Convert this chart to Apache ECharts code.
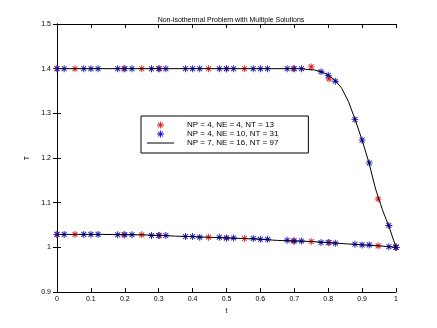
<!DOCTYPE html>
<html>
<head>
<meta charset="utf-8">
<script src="https://cdn.jsdelivr.net/npm/echarts@6/dist/echarts.min.js"></script>
<style>html,body{margin:0;padding:0;background:#fff;}#c{width:437px;height:328px;}</style>
</head>
<body>
<div id="c"></div>
<script>
// ---- data ----
var titleText = 'Non-isothermal Problem with Multiple Solutions';
var nameRed = 'NP = 4, NE = 4, NT = 13';
var nameBlue = 'NP = 4, NE = 10, NT = 31';
var nameLine = 'NP = 7, NE = 16, NT = 97';
var xTicks = [0, 0.1, 0.2, 0.3, 0.4, 0.5, 0.6, 0.7, 0.8, 0.9, 1];
var yTicks = [0.9, 1, 1.1, 1.2, 1.3, 1.4, 1.5];

var redX = [0, 0.0528, 0.1972, 0.25, 0.3028, 0.4472, 0.5, 0.5528, 0.6972, 0.75, 0.8028, 0.9472, 1];
var redUpper = [1.4, 1.4, 1.4, 1.4, 1.4, 1.4, 1.4, 1.4, 1.4, 1.404, 1.377, 1.108, 1.0];
var redLower = [1.029, 1.029, 1.028, 1.028, 1.0264, 1.0226, 1.021, 1.0197, 1.0143, 1.013, 1.0107, 1.0033, 1.0];

var blueX = [0, 0.0211, 0.0789, 0.1, 0.1211, 0.1789, 0.2, 0.2211, 0.2789, 0.3, 0.3211,
  0.3789, 0.4, 0.4211, 0.4789, 0.5, 0.5211, 0.5789, 0.6, 0.6211, 0.6789, 0.7, 0.7211,
  0.7789, 0.8, 0.8211, 0.8789, 0.9, 0.9211, 0.9789, 1];
var blueUpper = [1.4, 1.4, 1.4, 1.4, 1.4, 1.4, 1.4, 1.4, 1.4, 1.4, 1.4,
  1.4, 1.4, 1.4, 1.4, 1.4, 1.4, 1.4, 1.4, 1.4, 1.4, 1.4, 1.4,
  1.393, 1.385, 1.372, 1.286, 1.240, 1.189, 1.049, 1.0];
var blueLower = [1.029, 1.029, 1.029, 1.029, 1.029, 1.028, 1.028, 1.028, 1.0264, 1.0264, 1.0264,
  1.0242, 1.0242, 1.0226, 1.0226, 1.021, 1.021, 1.0197, 1.018, 1.018, 1.0159, 1.0143, 1.0143,
  1.0107, 1.0107, 1.0092, 1.0069, 1.0055, 1.0055, 1.0015, 1.0];

var lineUpperX = [0, 0.1, 0.2, 0.3, 0.4, 0.5, 0.6, 0.7, 0.72, 0.74, 0.76, 0.78, 0.8, 0.82, 0.84, 0.86, 0.88, 0.9, 0.92, 0.94, 0.96, 0.98, 1];
var lineUpperY = [1.4, 1.4, 1.4, 1.4, 1.4, 1.4, 1.4, 1.4, 1.4, 1.398, 1.397, 1.393, 1.386, 1.374, 1.356, 1.326, 1.285, 1.24, 1.19, 1.13, 1.084, 1.045, 1.0];
var lineLowerX = [0, 0.125, 0.25, 0.31, 0.35, 0.4, 0.45, 0.5, 0.55, 0.6, 0.65, 0.7, 0.75, 0.8, 0.85, 0.9, 0.95, 1];
var lineLowerY = [1.029, 1.029, 1.028, 1.0265, 1.025, 1.024, 1.0225, 1.021, 1.0197, 1.018, 1.0155, 1.0143, 1.013, 1.0107, 1.008, 1.0055, 1.0033, 1.0];

function pairs(xs, ys) { return xs.map(function (x, i) { return [x, ys[i]]; }); }

// filled eight-armed asterisk (like MATLAB '*')
var star = 'path://M0 4.35 L10 4.35 L10 5.65 L0 5.65 Z ' +
  'M4.35 0 L5.65 0 L5.65 10 L4.35 10 Z ' +
  'M1.04 1.96 L1.96 1.04 L8.96 8.04 L8.04 8.96 Z ' +
  'M8.04 1.04 L8.96 1.96 L1.96 8.96 L1.04 8.04 Z';
var lineIcon = 'path://M0 0 L27 0 L27 1 L0 1 Z';
var RED = '#e3221e', BLUE = '#1616c8';
var FONT = 'Liberation Sans';
var fmt = function (v) { return String(+(+v).toFixed(1)); };

var chart = echarts.init(document.getElementById('c'), null, { renderer: 'canvas' });
var baseX = {
  type: 'value', min: 0, max: 1, interval: 0.1,
  axisLine: { show: true, lineStyle: { color: '#000', width: 1 } },
  axisTick: { show: true, inside: true, length: 4, lineStyle: { color: '#000' } },
  splitLine: { show: false }
};
var baseY = {
  type: 'value', min: 0.9, max: 1.5, interval: 0.1,
  axisLine: { show: true, lineStyle: { color: '#000', width: 1 } },
  axisTick: { show: true, inside: true, length: 4, lineStyle: { color: '#000' } },
  splitLine: { show: false }
};
chart.setOption({
  animation: false,
  backgroundColor: '#fff',
  title: {
    text: titleText, left: 226, top: 12, textAlign: 'center',
    textStyle: { fontFamily: FONT, fontSize: 7, fontWeight: 'normal', color: '#000' }
  },
  grid: { left: 57, right: 41, top: 24, bottom: 36 },
  legend: {
    data: [
      { name: nameRed, icon: star, itemStyle: { color: RED, borderWidth: 0 } },
      { name: nameBlue, icon: star, itemStyle: { color: BLUE, borderWidth: 0 } },
      { name: nameLine, icon: lineIcon, itemStyle: { color: '#000', borderWidth: 0 } }
    ],
    orient: 'vertical', left: 141, top: 116,
    borderColor: '#000', borderWidth: 1, backgroundColor: '#fff',
    padding: [5, 30, 6, 6],
    itemWidth: 27, itemHeight: 7, itemGap: 1,
    textStyle: { fontFamily: FONT, fontSize: 8, color: '#000', padding: [0, 0, 0, 8], lineHeight: 7 }
  },
  xAxis: [
    Object.assign({}, baseX, {
      position: 'bottom',
      name: 't', nameLocation: 'middle', nameGap: 14,
      nameTextStyle: { fontFamily: FONT, fontSize: 7, color: '#000' },
      axisLabel: { fontFamily: FONT, fontSize: 7, color: '#000', margin: 4, formatter: fmt }
    }),
    Object.assign({}, baseX, { position: 'top', axisLabel: { show: false } })
  ],
  yAxis: [
    Object.assign({}, baseY, {
      position: 'left',
      name: 'T', nameLocation: 'middle', nameGap: 22, nameRotate: 90,
      nameTextStyle: { fontFamily: FONT, fontSize: 7, color: '#000' },
      axisLabel: { fontFamily: FONT, fontSize: 7, color: '#000', margin: 6, formatter: fmt }
    }),
    Object.assign({}, baseY, { position: 'right', axisLabel: { show: false } })
  ],
  series: [
    {
      name: nameLine, type: 'line', xAxisIndex: 0, yAxisIndex: 0,
      data: pairs(lineUpperX, lineUpperY), showSymbol: false, symbol: 'none',
      lineStyle: { color: '#000', width: 1 }, itemStyle: { color: '#000' }
    },
    {
      name: nameLine, type: 'line', xAxisIndex: 0, yAxisIndex: 0,
      data: pairs(lineLowerX, lineLowerY), showSymbol: false, symbol: 'none',
      lineStyle: { color: '#000', width: 1 }, itemStyle: { color: '#000' }
    },
    {
      name: nameRed, type: 'scatter', xAxisIndex: 0, yAxisIndex: 0,
      data: pairs(redX, redUpper).concat(pairs(redX, redLower)),
      symbol: star, symbolSize: 7,
      itemStyle: { color: RED, opacity: 1 }
    },
    {
      name: nameBlue, type: 'scatter', xAxisIndex: 0, yAxisIndex: 0,
      data: pairs(blueX, blueUpper).concat(pairs(blueX, blueLower)),
      symbol: star, symbolSize: 7,
      itemStyle: { color: BLUE, opacity: 1 }
    }
  ]
});
</script>
</body>
</html>
